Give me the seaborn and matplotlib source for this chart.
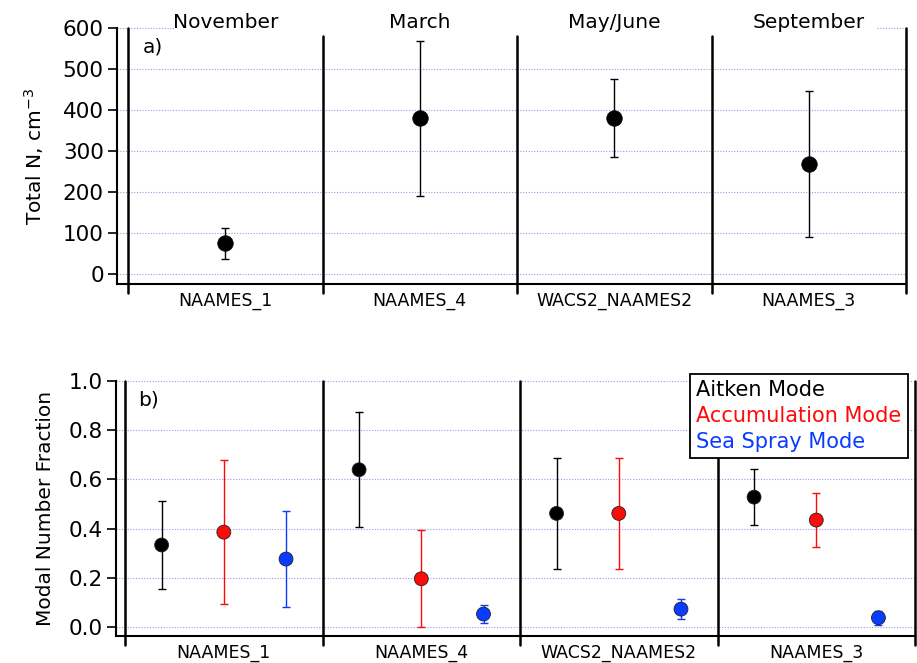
import matplotlib
matplotlib.use("Agg")
import matplotlib.pyplot as plt
import matplotlib.transforms as mtransforms
import matplotlib.ticker as mticker
from matplotlib.lines import Line2D
import numpy as np
import pandas as pd
import seaborn as sns

# ---- data -------------------------------------------------------------
campaigns = ["NAAMES_1", "NAAMES_4", "WACS2_NAAMES2", "NAAMES_3"]
seasons = ["November", "March", "May/June", "September"]

total_n = [76, 380, 380, 268]
total_n_lo = [37, 190, 285, 90]
total_n_hi = [113, 569, 476, 446]

modes = ["Aitken Mode", "Accumulation Mode", "Sea Spray Mode"]
mode_colors = ["#000000", "#ff0a0a", "#0a3cff"]

aitken = [0.334, 0.639, 0.462, 0.528]
aitken_lo = [0.157, 0.407, 0.238, 0.414]
aitken_hi = [0.512, 0.872, 0.686, 0.643]

accum = [0.386, 0.197, 0.462, 0.435]
accum_lo = [0.095, 0.0, 0.238, 0.326]
accum_hi = [0.678, 0.396, 0.688, 0.545]

seaspray = [0.277, 0.054, 0.074, 0.039]
seaspray_lo = [0.082, 0.019, 0.034, 0.009]
seaspray_hi = [0.472, 0.089, 0.116, 0.068]

# ---- tidy tables -------------------------------------------------------
df_total = pd.DataFrame({
    "campaign": campaigns,
    "pos": np.arange(len(campaigns), dtype=float),
    "value": total_n,
    "lo": total_n_lo,
    "hi": total_n_hi,
})

mode_offsets = [-0.315, 0.0, 0.315]
rows = []
for m, (vals, los, his) in enumerate([(aitken, aitken_lo, aitken_hi),
                                      (accum, accum_lo, accum_hi),
                                      (seaspray, seaspray_lo, seaspray_hi)]):
    for i, c in enumerate(campaigns):
        rows.append({"campaign": c, "mode": modes[m], "pos": i + mode_offsets[m],
                     "value": vals[i], "lo": los[i], "hi": his[i]})
df_modes = pd.DataFrame(rows)

# ---- figure -----------------------------------------------------------
sns.set_theme(style="white")
plt.rcParams["font.family"] = ["DejaVu Sans"]
plt.rcParams["text.color"] = "black"
plt.rcParams["axes.labelcolor"] = "black"
plt.rcParams["xtick.color"] = "black"
plt.rcParams["ytick.color"] = "black"

W, H = 917, 663
fig = plt.figure(figsize=(W / 100, H / 100), dpi=100)

ax_top = fig.add_axes([117 / W, 1 - 284 / H, (906 - 117) / W, (284 - 28) / H])
ax_bot = fig.add_axes([116 / W, 1 - 636 / H, (915 - 116) / W, (636 - 380.7) / H])

grid_color = "#9a9ae0"
grid_style = dict(color=grid_color, lw=0.8, ls=(0, (1, 1.5)), zorder=0)


def style_axes(ax, yticks, ylim, xleft, ticklabels, skip_top_grid=False):
    ax.set_xlim(xleft, 3.5)
    ax.set_ylim(*ylim)
    ax.set_yticks(yticks)
    ax.set_xticks(range(len(campaigns)))
    ax.set_xticklabels(ticklabels, fontsize=12.5, color="black")
    for s in ["top", "right"]:
        ax.spines[s].set_visible(False)
    for s in ["left", "bottom"]:
        ax.spines[s].set_color("black")
        ax.spines[s].set_linewidth(1.5)
    ax.tick_params(axis="y", which="major", direction="out", length=6.5,
                   width=1.2, color="black", labelcolor="black",
                   labelsize=15.5, pad=3, left=True)
    ax.tick_params(axis="x", length=0, pad=6, labelcolor="black")
    grid_ticks = yticks[:-1] if skip_top_grid else yticks
    for t in grid_ticks:
        ax.axhline(t, **grid_style)


# ---- panel a: total number concentration ------------------------------
style_axes(ax_top, [0, 100, 200, 300, 400, 500, 600], (-24, 600), -0.557, campaigns,
           skip_top_grid=True)
# the 600 line only shows outside the month headings
ax_top.plot([-0.557, -0.26], [600, 600], clip_on=False, **grid_style)
ax_top.plot([3.35, 3.5], [600, 600], clip_on=False, **grid_style)

ax_top.errorbar(df_total["pos"], df_total["value"],
                yerr=[df_total["value"] - df_total["lo"], df_total["hi"] - df_total["value"]],
                fmt="none", ecolor="black", elinewidth=1.0, capsize=2.7, capthick=1.0, zorder=3)
sns.scatterplot(data=df_total, x="pos", y="value", ax=ax_top, color="black",
                s=125, edgecolor="black", linewidth=0.5, zorder=4, legend=False)
ax_top.set_xlabel("")
ax_top.set_ylabel("Total N, cm$^{-3}$", fontsize=14.5, labelpad=12)

trans_top = mtransforms.blended_transform_factory(ax_top.transData, ax_top.transAxes)
for x in [0.5, 1.5, 2.5]:
    ax_top.plot([x, x], [(580 + 24) / 624, -9 / 256], transform=trans_top,
                color="black", lw=1.8, clip_on=False, zorder=5)
for x in [-0.5, 3.5]:
    ax_top.plot([x, x], [1.0, -9 / 256], transform=trans_top,
                color="black", lw=1.8, clip_on=False, zorder=5)
for i, s in enumerate(seasons):
    ax_top.text(i, 1.022, s, transform=trans_top, ha="center", va="center",
                fontsize=14.5, color="black")
ax_top.text(0.033, 0.925, "a)", transform=ax_top.transAxes, fontsize=14.5,
            ha="left", va="center")

# ---- panel b: modal number fraction -----------------------------------
style_axes(ax_bot, [0.0, 0.2, 0.4, 0.6, 0.8, 1.0], (-0.035, 1.0), -0.546, campaigns)
ax_bot.yaxis.set_major_formatter(mticker.FormatStrFormatter("%.1f"))
for m, col in zip(modes, mode_colors):
    sub = df_modes[df_modes["mode"] == m]
    ax_bot.errorbar(sub["pos"], sub["value"],
                    yerr=[sub["value"] - sub["lo"], sub["hi"] - sub["value"]],
                    fmt="none", ecolor=col, elinewidth=1.0, capsize=2.7, capthick=1.0, zorder=3)
sns.scatterplot(data=df_modes, x="pos", y="value", hue="mode", hue_order=modes,
                palette=mode_colors, ax=ax_bot, s=100, edgecolor="#222222",
                linewidth=0.6, zorder=4, legend=False)
ax_bot.set_xlabel("")
ax_bot.set_ylabel("Modal Number Fraction", fontsize=14.5, labelpad=10)

trans_bot = mtransforms.blended_transform_factory(ax_bot.transData, ax_bot.transAxes)
for x in [-0.5, 0.5, 1.5, 2.5, 3.5]:
    ax_bot.plot([x, x], [1.0, -9 / 255.3], transform=trans_bot,
                color="black", lw=1.8, clip_on=False, zorder=5)
ax_bot.text(0.028, 0.925, "b)", transform=ax_bot.transAxes, fontsize=14.5,
            ha="left", va="center")

handles = [Line2D([], [], linestyle="none") for _ in modes]
leg = fig.legend(handles, modes, loc="upper right", bbox_to_anchor=(908 / W, 1 - 374 / H),
                 bbox_transform=fig.transFigure, borderaxespad=0, handlelength=0,
                 handletextpad=0, fontsize=15, frameon=True, fancybox=False,
                 labelspacing=0.28, borderpad=0.3, labelcolor=mode_colors)
leg.get_frame().set_edgecolor("black")
leg.get_frame().set_linewidth(1.3)
leg.get_frame().set_alpha(1.0)
leg.set_zorder(10)

fig.savefig("out.png", dpi=100, facecolor="white")
